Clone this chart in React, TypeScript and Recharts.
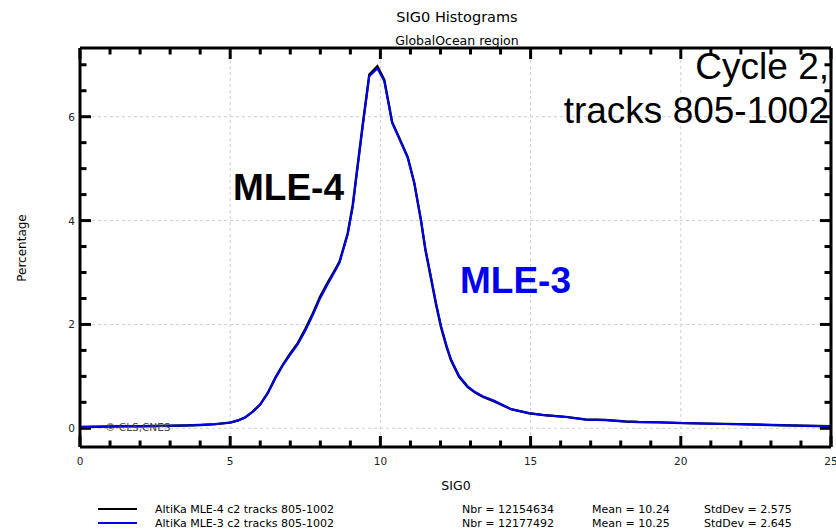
import React from 'react';
import { LineChart, Line, XAxis, YAxis, ReferenceLine } from 'recharts';

// SIG0 bin centres (dB)
const sig0Bins = [
  0, 0.5, 1, 1.5, 2, 2.5, 3, 3.5, 4, 4.5, 5, 5.25, 5.5, 5.75, 6, 6.25, 6.5, 6.75,
  7, 7.25, 7.5, 7.75, 8, 8.25, 8.5, 8.64, 8.91, 9.08, 9.19, 9.41, 9.63, 9.9, 10.13,
  10.39, 10.65, 10.91, 11.13, 11.35, 11.5, 11.68, 11.85, 12.02, 12.2, 12.35, 12.62,
  12.9, 13.15, 13.4, 13.79, 14.34, 14.95, 15.5, 16.17, 16.83, 17.5, 18.16, 18.6,
  19.27, 20.04, 21, 21.93, 23, 24.1, 25,
];

// Percentage of measurements per bin, MLE-4 retracker
const mle4Pct = [
  0.025, 0.03, 0.035, 0.04, 0.04, 0.045, 0.05, 0.055, 0.065, 0.08, 0.11, 0.15, 0.21,
  0.32, 0.46, 0.68, 0.97, 1.22, 1.44, 1.64, 1.91, 2.21, 2.54, 2.81, 3.06, 3.21, 3.75,
  4.3, 4.82, 5.84, 6.81, 6.97, 6.71, 5.9, 5.56, 5.22, 4.72, 4.0, 3.43, 2.9, 2.39, 1.94,
  1.57, 1.31, 0.99, 0.8, 0.69, 0.61, 0.52, 0.37, 0.29, 0.25, 0.22, 0.17, 0.16, 0.13,
  0.12, 0.115, 0.1, 0.09, 0.08, 0.065, 0.05, 0.04,
];

// Percentage of measurements per bin, MLE-3 retracker
const mle3Pct = [
  0.025, 0.03, 0.035, 0.04, 0.04, 0.045, 0.05, 0.055, 0.065, 0.08, 0.11, 0.15, 0.21,
  0.32, 0.46, 0.67, 0.96, 1.21, 1.42, 1.62, 1.88, 2.18, 2.51, 2.78, 3.04, 3.19, 3.73,
  4.27, 4.79, 5.81, 6.78, 6.93, 6.68, 5.88, 5.55, 5.21, 4.72, 4.02, 3.45, 2.93, 2.42,
  1.97, 1.6, 1.33, 1.01, 0.81, 0.7, 0.62, 0.53, 0.37, 0.29, 0.25, 0.22, 0.17, 0.16,
  0.13, 0.12, 0.115, 0.1, 0.09, 0.08, 0.065, 0.05, 0.04,
];

const X_DOMAIN: [number, number] = [0, 25];
const Y_DOMAIN: [number, number] = [-0.36, 7.323];

const xTicks = Array.from({ length: 26 }, (_, i) => i);
const xMajorTicks = [0, 5, 10, 15, 20, 25];
const yTicks = [0, 0.5, 1, 1.5, 2, 2.5, 3, 3.5, 4, 4.5, 5, 5.5, 6, 6.5, 7];
const yMajorTicks = [0, 2, 4, 6];

const legendRows = [
  { name: 'AltiKa MLE-4 c2 tracks 805-1002', nbr: '12154634', mean: '10.24', std: '2.575', color: '#000000' },
  { name: 'AltiKa MLE-3 c2 tracks 805-1002', nbr: '12177492', mean: '10.25', std: '2.645', color: '#0000ee' },
];

const rows = sig0Bins.map((s, i) => ({ sig0: s, mle4: mle4Pct[i], mle3: mle3Pct[i] }));

const FONT = '"DejaVu Sans", sans-serif';
const SANS = '"Liberation Sans", Arial, sans-serif';
const FRAME = { stroke: '#000', strokeWidth: 3 };
const GRID = '#cfcfcf';
const TICK_W = 3;

// Vertical reference line drawn as inward ticks on the bottom and top frame,
// plus a dashed grid line for major values.
function vTickShape(major: boolean, isEdge: boolean) {
  return (p: any) => {
    const len = major ? 11 : 6.5;
    const x = p.x1;
    const top = Math.min(p.y1, p.y2);
    const bot = Math.max(p.y1, p.y2);
    return (
      <g>
        {major && !isEdge && <line x1={x} x2={x} y1={top} y2={bot} stroke={GRID} strokeDasharray="3 3" strokeWidth={1} />}
        <line x1={x} x2={x} y1={bot} y2={bot - len} stroke="#000" strokeWidth={TICK_W} />
        <line x1={x} x2={x} y1={top} y2={top + len} stroke="#000" strokeWidth={TICK_W} />
      </g>
    );
  };
}

// Horizontal reference line drawn as inward ticks on the left and right frame.
function hTickShape(major: boolean) {
  return (p: any) => {
    const len = major ? 11 : 6.5;
    const y = p.y1;
    const left = Math.min(p.x1, p.x2);
    const right = Math.max(p.x1, p.x2);
    return (
      <g>
        {major && <line x1={left} x2={right} y1={y} y2={y} stroke={GRID} strokeDasharray="3 3" strokeWidth={1} />}
        <line x1={left} x2={left + len} y1={y} y2={y} stroke="#000" strokeWidth={TICK_W} />
        <line x1={right} x2={right - len} y1={y} y2={y} stroke="#000" strokeWidth={TICK_W} />
      </g>
    );
  };
}

const xLabel = (p: any) => (
  <text x={p.x} y={p.y + 14} textAnchor="middle" dominantBaseline="central" fontFamily={FONT} fontSize={10.5} fill="#222">
    {p.payload.value}
  </text>
);

const yLabel = (p: any) => (
  <text x={p.x - 5} y={p.y} textAnchor="end" dominantBaseline="central" fontFamily={FONT} fontSize={10.5} fill="#222">
    {p.payload.value}
  </text>
);

export default function App() {
  return (
    <div style={{ position: 'absolute', left: 0, top: 0, width: 836, height: 532, background: '#fff' }}>
      <LineChart width={836} height={532} data={rows} margin={{ top: 48, right: 5, bottom: 55, left: 20 }}>
        <XAxis
          dataKey="sig0"
          type="number"
          domain={X_DOMAIN}
          ticks={xMajorTicks}
          interval={0}
          allowDataOverflow
          height={30}
          tickSize={0}
          tickMargin={0}
          tickLine={false}
          axisLine={FRAME}
          tick={xLabel}
        />
        <YAxis
          type="number"
          domain={Y_DOMAIN}
          ticks={yMajorTicks}
          interval={0}
          allowDataOverflow
          width={60}
          tickSize={0}
          tickMargin={0}
          tickLine={false}
          axisLine={FRAME}
          tick={yLabel}
        />
        {xTicks.map((v) => (
          <ReferenceLine
            key={'tx' + v}
            x={v}
            ifOverflow="visible"
            shape={vTickShape(xMajorTicks.includes(v), v === X_DOMAIN[0] || v === X_DOMAIN[1])}
          />
        ))}
        {yTicks.map((v) => (
          <ReferenceLine key={'ty' + v} y={v} ifOverflow="visible" shape={hTickShape(yMajorTicks.includes(v))} />
        ))}
        <Line type="linear" dataKey="mle4" stroke="#000000" strokeWidth={2.4} dot={false} isAnimationActive={false} />
        <Line type="linear" dataKey="mle3" stroke="#0000ee" strokeWidth={2} dot={false} isAnimationActive={false} />
        {/* closing the frame on the top and right sides */}
        <ReferenceLine y={Y_DOMAIN[1]} ifOverflow="visible" stroke="#000" strokeWidth={3} />
        <ReferenceLine x={X_DOMAIN[1]} ifOverflow="visible" stroke="#000" strokeWidth={3} />
      </LineChart>

      <svg width={836} height={532} style={{ position: 'absolute', left: 0, top: 0, pointerEvents: 'none' }}>
        <text x={457} y={17} textAnchor="middle" dominantBaseline="central" fontFamily={FONT} fontSize={14.5} fill="#000">
          SIG0 Histograms
        </text>
        <text x={457} y={40} textAnchor="middle" dominantBaseline="central" fontFamily={FONT} fontSize={12.5} fill="#000">
          GlobalOcean region
        </text>
        <text
          x={22}
          y={248}
          textAnchor="middle"
          dominantBaseline="central"
          fontFamily={FONT}
          fontSize={12}
          fill="#000"
          transform="rotate(-90 22 248)"
        >
          Percentage
        </text>
        <text x={456} y={485} textAnchor="middle" dominantBaseline="central" fontFamily={FONT} fontSize={12.5} fill="#000">
          SIG0
        </text>

        <text x={829} y={79} textAnchor="end" fontFamily={SANS} fontSize={37} fill="#000">
          Cycle 2,
        </text>
        <text x={829} y={123} textAnchor="end" fontFamily={SANS} fontSize={37} fill="#000">
          tracks 805-1002
        </text>
        <text x={233} y={200} fontFamily={SANS} fontWeight="bold" fontSize={37} fill="#000">
          MLE-4
        </text>
        <text x={460} y={293} fontFamily={SANS} fontWeight="bold" fontSize={37} fill="#0000ee">
          MLE-3
        </text>
        <text x={105} y={427} dominantBaseline="central" fontFamily={FONT} fontSize={10.5} fill="#444">
          © CLS,CNES
        </text>

        {legendRows.map((r, i) => {
          const y = 509 + i * 14;
          return (
            <g key={r.name}>
              <line x1={98} y1={y} x2={137} y2={y} stroke={r.color} strokeWidth={2} />
              <text x={155} y={y} dominantBaseline="central" fontFamily={FONT} fontSize={11} fill="#000">
                {r.name}
              </text>
              <text x={462} y={y} dominantBaseline="central" fontFamily={FONT} fontSize={11} fill="#000">
                {'Nbr = ' + r.nbr}
              </text>
              <text x={592} y={y} dominantBaseline="central" fontFamily={FONT} fontSize={11} fill="#000">
                {'Mean = ' + r.mean}
              </text>
              <text x={704} y={y} dominantBaseline="central" fontFamily={FONT} fontSize={11} fill="#000">
                {'StdDev = ' + r.std}
              </text>
            </g>
          );
        })}
      </svg>
    </div>
  );
}
